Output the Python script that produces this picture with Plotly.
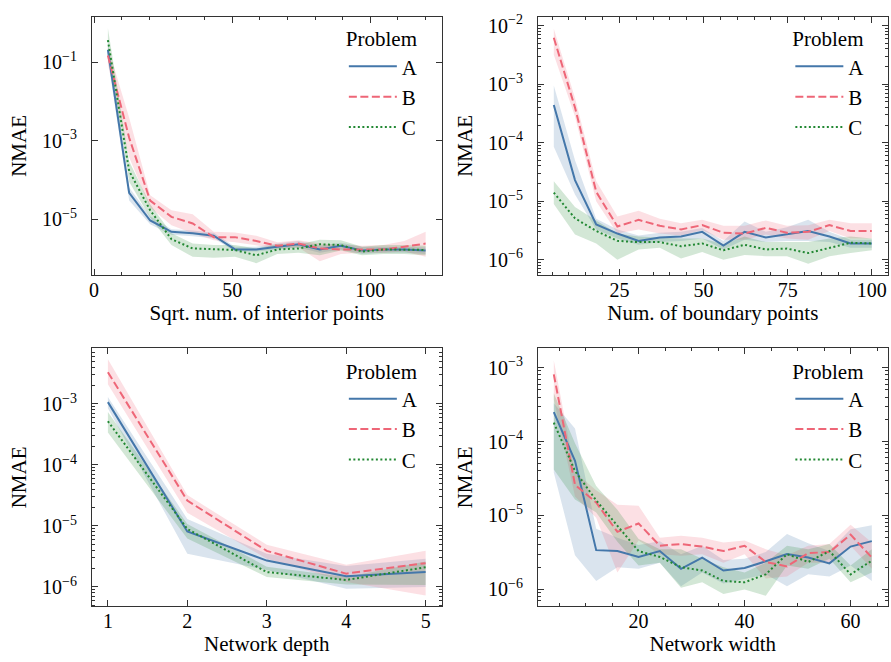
import plotly.graph_objects as go

# ---------------- data ----------------
# Panel 1: interior points
p1_x = [5, 12.7, 20.3, 28, 35.7, 43.3, 51, 58.7, 66.3, 74, 81.7, 89.3, 97, 104.7, 112.3, 120]
p1_A = [2.1e-1, 4.7e-5, 9.3e-6, 4.8e-6, 4.4e-6, 3.8e-6, 1.7e-6, 1.7e-6, 2.0e-6, 2.3e-6, 1.7e-6, 2.1e-6, 1.6e-6, 1.7e-6, 1.7e-6, 1.6e-6]
p1_A_lo = [1.2e-1, 3.0e-5, 7.5e-6, 4.0e-6, 3.7e-6, 3.3e-6, 1.5e-6, 1.5e-6, 1.7e-6, 1.9e-6, 1.4e-6, 1.7e-6, 1.3e-6, 1.4e-6, 1.4e-6, 1.3e-6]
p1_A_hi = [3.5e-1, 6.5e-5, 1.2e-5, 5.6e-6, 5.2e-6, 4.5e-6, 2.0e-6, 2.0e-6, 2.4e-6, 2.8e-6, 2.1e-6, 2.5e-6, 2.0e-6, 2.0e-6, 2.0e-6, 1.9e-6]
p1_B = [1.5e-1, 1.2e-3, 3.0e-5, 1.15e-5, 7.8e-6, 3.5e-6, 3.5e-6, 2.8e-6, 2.1e-6, 2.4e-6, 1.8e-6, 1.7e-6, 1.7e-6, 1.7e-6, 2.0e-6, 2.4e-6]
p1_B_lo = [9.0e-2, 3.8e-4, 2.0e-5, 7.0e-6, 4.4e-6, 2.9e-6, 2.6e-6, 2.2e-6, 1.8e-6, 1.9e-6, 8.5e-7, 1.3e-6, 1.4e-6, 1.4e-6, 1.5e-6, 1.1e-6]
p1_B_hi = [2.5e-1, 3.9e-3, 4.1e-5, 1.7e-5, 1.35e-5, 4.8e-6, 4.6e-6, 3.8e-6, 2.6e-6, 2.9e-6, 2.4e-6, 2.2e-6, 2.1e-6, 2.2e-6, 2.8e-6, 4.8e-6]
p1_C = [3.7e-1, 1.7e-4, 1.7e-5, 3.1e-6, 1.8e-6, 1.7e-6, 1.65e-6, 1.2e-6, 1.7e-6, 1.8e-6, 2.3e-6, 2.2e-6, 1.5e-6, 1.7e-6, 1.7e-6, 1.65e-6]
p1_C_lo = [2.0e-1, 9.0e-5, 1.1e-5, 2.2e-6, 1.1e-6, 1.05e-6, 1.1e-6, 7.6e-7, 1.3e-6, 1.4e-6, 1.2e-6, 1.6e-6, 1.2e-6, 1.3e-6, 1.3e-6, 1.2e-6]
p1_C_hi = [7.4e-1, 3.0e-4, 2.4e-5, 4.4e-6, 2.4e-6, 2.2e-6, 2.2e-6, 1.8e-6, 2.3e-6, 2.3e-6, 3.0e-6, 2.9e-6, 2.0e-6, 2.2e-6, 2.2e-6, 2.1e-6]

# Panel 2: boundary points
p2_x = [5.5, 11.8, 18.1, 24.4, 30.7, 37.0, 43.3, 49.6, 55.9, 62.2, 68.5, 74.8, 81.1, 87.4, 93.7, 100]
p2_A = [4.4e-4, 2.3e-5, 4.0e-6, 2.8e-6, 2.1e-6, 2.4e-6, 2.5e-6, 3.0e-6, 1.75e-6, 3.0e-6, 2.4e-6, 2.75e-6, 3.1e-6, 2.5e-6, 1.9e-6, 1.9e-6]
p2_A_lo = [8.5e-5, 1.3e-5, 3.3e-6, 2.3e-6, 1.8e-6, 2.0e-6, 2.1e-6, 2.3e-6, 1.5e-6, 2.2e-6, 2.0e-6, 2.1e-6, 2.1e-6, 2.0e-6, 1.6e-6, 1.6e-6]
p2_A_hi = [9.5e-4, 5.0e-5, 5.0e-6, 3.3e-6, 2.6e-6, 2.9e-6, 3.0e-6, 3.5e-6, 2.1e-6, 4.5e-6, 3.0e-6, 3.6e-6, 4.8e-6, 3.0e-6, 2.2e-6, 2.2e-6]
p2_B = [6.2e-3, 4.0e-4, 1.45e-5, 3.7e-6, 4.8e-6, 3.8e-6, 3.3e-6, 3.9e-6, 2.9e-6, 2.8e-6, 3.5e-6, 2.9e-6, 3.0e-6, 3.9e-6, 3.1e-6, 3.1e-6]
p2_B_lo = [3.2e-3, 2.8e-4, 1.0e-5, 2.8e-6, 3.3e-6, 2.8e-6, 2.6e-6, 3.2e-6, 2.2e-6, 2.2e-6, 2.7e-6, 2.3e-6, 2.2e-6, 3.1e-6, 2.3e-6, 2.3e-6]
p2_B_hi = [8.9e-3, 5.8e-4, 2.2e-5, 5.5e-6, 6.9e-6, 5.0e-6, 4.2e-6, 4.8e-6, 3.8e-6, 3.8e-6, 4.7e-6, 3.8e-6, 3.9e-6, 4.8e-6, 4.2e-6, 4.2e-6]
p2_C = [1.4e-5, 5.1e-6, 3.1e-6, 2.1e-6, 2.0e-6, 2.0e-6, 1.7e-6, 1.9e-6, 1.45e-6, 1.8e-6, 1.5e-6, 1.55e-6, 1.3e-6, 1.6e-6, 1.95e-6, 1.9e-6]
p2_C_lo = [9.0e-6, 2.7e-6, 1.9e-6, 1.0e-6, 1.5e-6, 1.6e-6, 1.05e-6, 1.35e-6, 1.0e-6, 1.2e-6, 1.15e-6, 1.15e-6, 8.5e-7, 1.15e-6, 1.3e-6, 1.45e-6]
p2_C_hi = [2.2e-5, 8.0e-6, 4.7e-6, 2.8e-6, 2.5e-6, 2.4e-6, 2.3e-6, 2.3e-6, 1.85e-6, 2.5e-6, 2.0e-6, 2.0e-6, 2.0e-6, 2.3e-6, 2.5e-6, 2.3e-6]

# Panel 3: network depth
p3_x = [1, 2, 3, 4, 5]
p3_A = [1.07e-3, 8.1e-6, 2.7e-6, 1.5e-6, 1.75e-6]
p3_A_lo = [8.5e-4, 3.5e-6, 1.9e-6, 9.3e-7, 1.0e-6]
p3_A_hi = [1.3e-3, 1.3e-5, 3.5e-6, 2.2e-6, 2.9e-6]
p3_B = [3.3e-3, 2.6e-5, 3.9e-6, 1.65e-6, 2.45e-6]
p3_B_lo = [2.1e-3, 1.65e-5, 2.9e-6, 1.2e-6, 7.2e-7]
p3_B_hi = [5.4e-3, 3.2e-5, 4.9e-6, 2.3e-6, 3.9e-6]
p3_C = [5.2e-4, 8.9e-6, 1.75e-6, 1.3e-6, 2.1e-6]
p3_C_lo = [3.4e-4, 6.2e-6, 1.45e-6, 1.1e-6, 1.07e-6]
p3_C_hi = [7.4e-4, 1.07e-5, 2.15e-6, 1.45e-6, 2.6e-6]

# Panel 4: network width
p4_x = [4, 8, 12, 16, 20, 24, 28, 32, 36, 40, 44, 48, 52, 56, 60, 64]
p4_A = [2.5e-4, 5.5e-5, 3.4e-6, 3.3e-6, 2.75e-6, 3.3e-6, 1.9e-6, 2.7e-6, 1.8e-6, 1.95e-6, 2.4e-6, 3.0e-6, 2.7e-6, 2.25e-6, 3.8e-6, 4.5e-6]
p4_A_lo = [3.8e-5, 2.9e-6, 1.3e-6, 2.0e-6, 1.9e-6, 2.3e-6, 1.1e-6, 1.7e-6, 1.2e-6, 1.4e-6, 1.6e-6, 1.1e-6, 1.6e-6, 1.5e-6, 2.1e-6, 1.3e-6]
p4_A_hi = [3.3e-4, 1.5e-4, 6.6e-6, 5.0e-6, 4.0e-6, 4.5e-6, 3.0e-6, 3.9e-6, 2.5e-6, 2.6e-6, 3.2e-6, 5.6e-6, 4.2e-6, 3.3e-6, 6.5e-6, 7.4e-6]
p4_B = [8.1e-4, 2.6e-5, 1.5e-5, 6.0e-6, 7.8e-6, 3.9e-6, 4.1e-6, 3.8e-6, 3.3e-6, 3.9e-6, 2.35e-6, 2.05e-6, 3.1e-6, 3.2e-6, 5.5e-6, 2.7e-6]
p4_B_lo = [3.7e-4, 1.8e-5, 9.3e-6, 1.7e-6, 4.6e-6, 3.0e-6, 2.85e-6, 3.0e-6, 2.3e-6, 3.0e-6, 1.4e-6, 1.5e-6, 2.3e-6, 2.3e-6, 3.9e-6, 1.9e-6]
p4_B_hi = [1.26e-3, 3.8e-5, 2.2e-5, 1.4e-5, 1.35e-5, 5.0e-6, 5.3e-6, 5.0e-6, 4.3e-6, 4.6e-6, 3.5e-6, 2.9e-6, 3.9e-6, 4.1e-6, 7.5e-6, 4.3e-6]
p4_C = [1.8e-4, 4.0e-5, 1.6e-5, 7.2e-6, 3.3e-6, 2.75e-6, 2.0e-6, 1.8e-6, 1.3e-6, 1.25e-6, 1.6e-6, 3.0e-6, 2.35e-6, 3.3e-6, 1.6e-6, 2.45e-6]
p4_C_lo = [4.2e-5, 1.65e-5, 1.1e-5, 4.4e-6, 2.1e-6, 2.3e-6, 1.05e-6, 1.25e-6, 8.7e-7, 1.0e-6, 8.2e-7, 2.1e-6, 1.9e-6, 2.6e-6, 1.25e-6, 1.7e-6]
p4_C_hi = [4.5e-4, 9.5e-5, 2.5e-5, 1.2e-5, 4.8e-6, 3.5e-6, 3.5e-6, 2.6e-6, 2.0e-6, 1.7e-6, 2.3e-6, 3.9e-6, 3.5e-6, 4.1e-6, 2.1e-6, 3.5e-6]

problems = ["A", "B", "C"]
x_titles = ["Sqrt. num. of interior points", "Num. of boundary points", "Network depth", "Network width"]

# ---------------- style ----------------
colors = {"A": "#4477AA", "B": "#EE6677", "C": "#228833"}
fills = {"A": "rgba(68,119,170,0.2)", "B": "rgba(238,102,119,0.2)", "C": "rgba(34,136,51,0.2)"}
dashes = {"A": "solid", "B": "8px,3.5px", "C": "2px,2.5px"}
FONT = "Liberation Serif, Times New Roman, serif"
FS_TICK = 20
FS_TEXT = 21

panels = [
    (p1_x, {"A": (p1_A, p1_A_lo, p1_A_hi), "B": (p1_B, p1_B_lo, p1_B_hi), "C": (p1_C, p1_C_lo, p1_C_hi)}),
    (p2_x, {"A": (p2_A, p2_A_lo, p2_A_hi), "B": (p2_B, p2_B_lo, p2_B_hi), "C": (p2_C, p2_C_lo, p2_C_hi)}),
    (p3_x, {"A": (p3_A, p3_A_lo, p3_A_hi), "B": (p3_B, p3_B_lo, p3_B_hi), "C": (p3_C, p3_C_lo, p3_C_hi)}),
    (p4_x, {"A": (p4_A, p4_A_lo, p4_A_hi), "B": (p4_B, p4_B_lo, p4_B_hi), "C": (p4_C, p4_C_lo, p4_C_hi)}),
]

fig = go.Figure()
for i, (xs, series) in enumerate(panels):
    n = "" if i == 0 else str(i + 1)
    xa, ya, lg = "x" + n, "y" + n, "legend" + n
    for p in problems:
        mean, lo, hi = series[p]
        fig.add_trace(go.Scatter(x=xs, y=lo, xaxis=xa, yaxis=ya, mode="lines",
                                 line=dict(width=0, color=fills[p]), showlegend=False, hoverinfo="skip"))
        fig.add_trace(go.Scatter(x=xs, y=hi, xaxis=xa, yaxis=ya, mode="lines", fill="tonexty",
                                 fillcolor=fills[p], line=dict(width=0, color=fills[p]),
                                 showlegend=False, hoverinfo="skip"))
    for p in problems:
        mean, lo, hi = series[p]
        fig.add_trace(go.Scatter(x=xs, y=mean, xaxis=xa, yaxis=ya, mode="lines", name=p,
                                 line=dict(color=colors[p], width=2, dash=dashes[p]),
                                 legend=lg, showlegend=True))

def sup(k):
    return "10<sup>\u2212%d</sup>" % k

def minor_vals(lo_exp, hi_exp):
    return [m * 10.0 ** e for e in range(lo_exp, hi_exp + 1) for m in range(2, 10)]

W, H = 891, 662
def xd(a, b):
    return [a / W, b / W]
def yd(top, bot):
    return [1 - bot / H, 1 - top / H]

xdom = [xd(89.3, 440), xd(536.7, 887.7)]
ydom_top = yd(12, 272)
ydom_bot = yd(346, 606)

axis_common = dict(showline=True, linecolor="#333333", linewidth=1, mirror="ticks",
                   ticks="inside", ticklen=6, tickwidth=1, tickcolor="#333333",
                   showgrid=False, zeroline=False,
                   tickfont=dict(family=FONT, size=FS_TICK, color="black"))

xcfg = [
    dict(range=[-0.75, 125.75], tickvals=[0, 50, 100], minor=dict(dtick=10, tick0=0)),
    dict(range=[0.775, 104.725], tickvals=[25, 50, 75, 100], minor=dict(dtick=5, tick0=0)),
    dict(range=[0.8, 5.2], tickvals=[1, 2, 3, 4, 5], minor=None),
    dict(range=[1, 67], tickvals=[20, 40, 60], minor=dict(dtick=5, tick0=0)),
]
ycfg = [
    dict(range=[-6.42, 0.16], exps=[1, 3, 5], minor=None),
    dict(range=[-6.26, -1.85], exps=[2, 3, 4, 5, 6], minor=(-7, -2)),
    dict(range=[-6.32, -2.09], exps=[3, 4, 5, 6], minor=(-7, -3)),
    dict(range=[-6.23, -2.74], exps=[3, 4, 5, 6], minor=(-7, -3)),
]

layout = dict(width=W, height=H, margin=dict(l=0, r=0, t=0, b=0),
              plot_bgcolor="white", paper_bgcolor="white",
              font=dict(family=FONT, size=FS_TEXT, color="black"))

leg_pos = [(342 / W, 1 - 14 / H), (790 / W, 1 - 14 / H),
           (342 / W, 1 - 349 / H), (790 / W, 1 - 349 / H)]

for i in range(4):
    n = "" if i == 0 else str(i + 1)
    xdm = xdom[i % 2]
    ydm = ydom_top if i < 2 else ydom_bot
    xc, yc = xcfg[i], ycfg[i]
    xax = dict(axis_common, domain=xdm, anchor="y" + n, range=xc["range"], tickmode="array",
               tickvals=xc["tickvals"], ticktext=[str(v) for v in xc["tickvals"]],
               ticklabelstandoff=-3,
               title=dict(text=x_titles[i], font=dict(family=FONT, size=FS_TEXT), standoff=3))
    if xc["minor"] is not None:
        xax["minor"] = dict(xc["minor"], ticks="inside", ticklen=3, tickwidth=1, tickcolor="#333333", showgrid=False)
    yax = dict(axis_common, domain=ydm, anchor="x" + n, type="log", range=yc["range"], tickmode="array",
               tickvals=[10.0 ** (-k) for k in yc["exps"]], ticktext=[sup(k) for k in yc["exps"]],
               ticklabelstandoff=10,
               title=dict(text="NMAE", font=dict(family=FONT, size=FS_TEXT), standoff=9))
    if yc["minor"] is not None:
        yax["minor"] = dict(tickmode="array", tickvals=minor_vals(*yc["minor"]), ticks="inside",
                            ticklen=3, tickwidth=1, tickcolor="#333333", showgrid=False)
    layout["xaxis" + n] = xax
    layout["yaxis" + n] = yax
    lx, ly = leg_pos[i]
    layout["legend" + n] = dict(x=lx, y=ly, xanchor="left", yanchor="top", bgcolor="rgba(0,0,0,0)",
                                borderwidth=0, traceorder="normal", itemwidth=48,
                                title=dict(text="Problem", font=dict(family=FONT, size=FS_TEXT)),
                                font=dict(family=FONT, size=FS_TEXT), tracegroupgap=0)

fig.update_layout(**layout)
fig.write_html("out.html", config={"displayModeBar": False},
               post_script="document.body.style.margin='0px';document.body.style.overflow='hidden';")
